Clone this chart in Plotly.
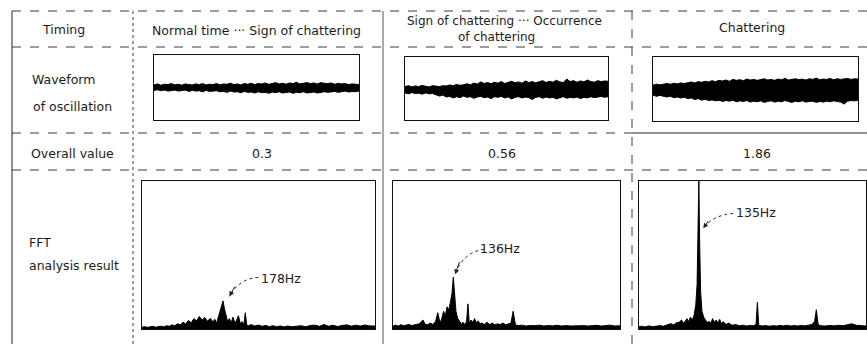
import plotly.graph_objects as go

# ---------------- data ----------------
row_labels = ["Timing", "Waveform", "of oscillation", "Overall value", "FFT", "analysis result"]
stage_labels = ["Normal time ··· Sign of chattering",
                "Sign of chattering ··· Occurrence", "of chattering",
                "Chattering"]
overall_values = ["0.3", "0.56", "1.86"]
peak_labels = ["178Hz", "136Hz", "135Hz"]

wave1_upper = [0.08,0.11,0.07,0.10,0.09,0.12,0.08,0.10,0.07,0.11,0.09,0.08,0.11,0.09,0.12,0.08,0.10,0.09,0.12,0.08,
               0.11,0.10,0.13,0.09,0.11,0.08,0.12,0.10,0.13,0.09,0.12,0.11,0.14,0.10,0.12,0.15,0.11,0.13,0.10,0.14,
               0.12,0.16,0.11,0.13,0.15,0.12,0.14,0.11,0.15,0.13,0.12,0.14,0.10,0.13,0.11,0.12,0.09,0.11,0.10,0.09]
wave1_lower = [-0.09,-0.07,-0.10,-0.08,-0.11,-0.09,-0.08,-0.11,-0.10,-0.08,-0.12,-0.09,-0.11,-0.10,-0.13,-0.09,-0.12,-0.11,-0.10,-0.13,
               -0.12,-0.15,-0.11,-0.14,-0.13,-0.16,-0.12,-0.15,-0.14,-0.17,-0.13,-0.16,-0.15,-0.18,-0.14,-0.16,-0.13,-0.17,-0.15,-0.14,
               -0.18,-0.15,-0.16,-0.13,-0.17,-0.15,-0.14,-0.17,-0.16,-0.13,-0.15,-0.14,-0.12,-0.15,-0.13,-0.11,-0.14,-0.12,-0.13,-0.11]
wave2_upper = [0.06,0.09,0.05,0.08,0.06,0.10,0.07,0.05,0.09,0.07,0.06,0.09,0.08,0.11,0.09,0.13,0.10,0.12,0.15,0.12,
               0.17,0.14,0.21,0.16,0.19,0.15,0.20,0.17,0.22,0.16,0.19,0.23,0.18,0.21,0.17,0.24,0.19,0.22,0.18,0.21,
               0.25,0.19,0.23,0.20,0.26,0.21,0.19,0.30,0.22,0.25,0.20,0.24,0.21,0.27,0.22,0.20,0.25,0.22,0.24,0.23]
wave2_lower = [-0.14,-0.17,-0.13,-0.16,-0.15,-0.18,-0.14,-0.17,-0.16,-0.20,-0.24,-0.21,-0.27,-0.25,-0.30,-0.26,-0.29,-0.24,-0.28,-0.26,
               -0.31,-0.27,-0.25,-0.29,-0.27,-0.32,-0.26,-0.28,-0.25,-0.30,-0.27,-0.33,-0.28,-0.26,-0.30,-0.27,-0.29,-0.35,-0.28,-0.26,
               -0.31,-0.27,-0.30,-0.28,-0.33,-0.29,-0.26,-0.31,-0.28,-0.30,-0.27,-0.32,-0.28,-0.30,-0.26,-0.29,-0.27,-0.25,-0.28,-0.26]
wave3_upper = [0.12,0.15,0.13,0.14,0.17,0.15,0.18,0.16,0.19,0.17,0.20,0.22,0.19,0.23,0.21,0.24,0.22,0.26,0.23,0.27,
               0.25,0.28,0.24,0.30,0.27,0.29,0.26,0.31,0.28,0.30,0.27,0.29,0.32,0.28,0.30,0.27,0.31,0.29,0.33,0.28,
               0.30,0.32,0.29,0.31,0.28,0.32,0.30,0.34,0.29,0.31,0.30,0.33,0.29,0.32,0.30,0.31,0.33,0.30,0.32,0.31]
wave3_lower = [-0.19,-0.23,-0.20,-0.22,-0.25,-0.23,-0.27,-0.25,-0.28,-0.26,-0.30,-0.28,-0.33,-0.30,-0.35,-0.32,-0.36,-0.34,-0.37,-0.35,
               -0.39,-0.36,-0.38,-0.35,-0.40,-0.37,-0.39,-0.36,-0.41,-0.38,-0.40,-0.37,-0.42,-0.39,-0.37,-0.41,-0.38,-0.40,-0.36,-0.39,
               -0.42,-0.38,-0.40,-0.37,-0.41,-0.39,-0.38,-0.42,-0.39,-0.41,-0.38,-0.40,-0.37,-0.39,-0.41,-0.47,-0.38,-0.36,-0.37,-0.35]

fft1_freq = [0,6,12,18,24,30,36,42,48,54,60,66,72,78,84,90,96,102,108,114,120,126,132,138,144,150,156,160,164,168,
             172,175,178,181,184,188,192,196,200,204,208,212,216,220,224,227,230,234,240,248,256,264,272,280,288,296,
             304,312,320,330,340,350,360,370,380,390,400,410,420,430,440,450,460,470,480,490,500,512]
fft1_amp = [0.012,0.016,0.011,0.015,0.018,0.012,0.016,0.019,0.014,0.022,0.018,0.028,0.022,0.036,0.027,0.046,0.034,0.058,
            0.042,0.070,0.055,0.085,0.060,0.078,0.052,0.072,0.048,0.066,0.040,0.080,0.120,0.150,0.190,0.140,0.100,0.050,
            0.070,0.042,0.080,0.040,0.060,0.090,0.035,0.050,0.030,0.110,0.028,0.022,0.030,0.020,0.027,0.018,0.024,0.016,
            0.022,0.015,0.021,0.014,0.020,0.015,0.019,0.022,0.015,0.024,0.026,0.018,0.030,0.019,0.025,0.017,0.024,0.028,
            0.019,0.026,0.020,0.027,0.021,0.020]

fft2_freq = [0,6,12,18,24,30,36,42,48,54,60,64,68,72,78,84,90,96,101,106,110,114,118,122,126,130,133,136,139,142,
             146,150,154,158,162,166,169,172,176,180,184,188,192,196,200,206,212,218,224,230,236,242,248,254,260,266,
             271,276,282,290,300,310,320,330,340,350,360,370,380,390,400,410,420,430,440,450,460,470,480,490,500,512]
fft2_amp = [0.020,0.026,0.020,0.029,0.022,0.027,0.031,0.023,0.029,0.033,0.036,0.050,0.060,0.033,0.028,0.040,0.030,0.050,
            0.110,0.040,0.070,0.120,0.090,0.150,0.130,0.190,0.240,0.350,0.200,0.120,0.070,0.050,0.035,0.045,0.030,0.050,
            0.170,0.040,0.060,0.045,0.070,0.040,0.055,0.035,0.040,0.030,0.045,0.030,0.040,0.028,0.035,0.030,0.040,0.028,
            0.035,0.040,0.120,0.030,0.022,0.026,0.020,0.024,0.022,0.026,0.020,0.024,0.021,0.025,0.020,0.023,0.020,0.022,
            0.019,0.023,0.020,0.022,0.025,0.020,0.022,0.026,0.020,0.022]

fft3_freq = [0,6,12,18,24,30,36,42,48,54,60,66,72,78,84,90,96,100,104,108,112,116,120,124,128,131,133,135,137,139,
             142,146,150,154,158,162,166,170,174,178,182,186,190,196,202,210,218,226,234,242,250,258,264,267,270,278,
             286,294,302,310,318,326,334,342,350,358,366,374,382,390,396,400,404,410,420,430,440,450,460,470,480,490,
             500,512]
fft3_amp = [0.015,0.019,0.014,0.018,0.021,0.015,0.019,0.021,0.023,0.018,0.025,0.029,0.036,0.028,0.041,0.045,0.060,0.040,
            0.050,0.070,0.050,0.080,0.060,0.090,0.160,0.300,0.600,1.000,0.550,0.250,0.120,0.080,0.060,0.045,0.050,0.040,
            0.070,0.045,0.060,0.040,0.065,0.035,0.050,0.030,0.040,0.025,0.030,0.022,0.026,0.020,0.024,0.022,0.030,0.180,
            0.025,0.020,0.023,0.019,0.022,0.020,0.024,0.021,0.025,0.020,0.023,0.020,0.024,0.021,0.026,0.030,0.050,0.130,
            0.030,0.022,0.020,0.024,0.021,0.025,0.022,0.028,0.035,0.025,0.022,0.020]

# arrow tips (freq, amplitude) that the peak labels point to
arrow_tip_freq = [192, 140, 145]
arrow_tip_amp = [0.22, 0.37, 0.68]

# ---------------- layout helpers ----------------
W, H = 867, 344
FONT = "DejaVu Sans"
INK = "#1c1c1c"
LINE = "#3a3a3a"


def px(x):
    return x / W


def py(y):
    return 1 - y / H


fig = go.Figure()

waves = [(wave1_upper, wave1_lower), (wave2_upper, wave2_lower), (wave3_upper, wave3_lower)]
wave_boxes = [(154, 359, 55, 120), (405, 608, 57, 120), (653, 858, 57, 121)]
ffts = [(fft1_freq, fft1_amp), (fft2_freq, fft2_amp), (fft3_freq, fft3_amp)]
fft_boxes = [(142, 375, 181, 329), (393, 620, 181, 329), (639, 866, 181, 329)]

axis_common = dict(showline=True, mirror=True, linecolor="#111", linewidth=1,
                   showgrid=False, zeroline=False, showticklabels=False, ticks="")

for i, ((up, lo), box) in enumerate(zip(waves, wave_boxes)):
    n = i + 1
    xa = "x" if n == 1 else f"x{n}"
    ya = "y" if n == 1 else f"y{n}"
    t = list(range(len(up)))
    fig.add_trace(go.Scatter(x=t, y=up, xaxis=xa, yaxis=ya, mode="lines",
                             line=dict(color="black", width=1), showlegend=False, hoverinfo="skip"))
    fig.add_trace(go.Scatter(x=t, y=lo, xaxis=xa, yaxis=ya, mode="lines", fill="tonexty",
                             fillcolor="black", line=dict(color="black", width=1),
                             showlegend=False, hoverinfo="skip"))
    x0, x1, y0, y1 = box
    fig.update_layout(**{
        ("xaxis" if n == 1 else f"xaxis{n}"): dict(domain=[px(x0), px(x1)], range=[0, len(up) - 1],
                                                   anchor=ya, **axis_common),
        ("yaxis" if n == 1 else f"yaxis{n}"): dict(domain=[py(y1), py(y0)], range=[-1, 1],
                                                   anchor=xa, **axis_common),
    })

for i, ((fr, am), box) in enumerate(zip(ffts, fft_boxes)):
    n = i + 4
    xa, ya = f"x{n}", f"y{n}"
    fig.add_trace(go.Scatter(x=fr, y=am, xaxis=xa, yaxis=ya, mode="lines", fill="tozeroy",
                             fillcolor="black", line=dict(color="black", width=1),
                             showlegend=False, hoverinfo="skip"))
    x0, x1, y0, y1 = box
    fig.update_layout(**{
        f"xaxis{n}": dict(domain=[px(x0), px(x1)], range=[0, 512], anchor=ya, **axis_common),
        f"yaxis{n}": dict(domain=[py(y1), py(y0)], range=[0, 1], anchor=xa, **axis_common),
    })

# ---------------- table lines ----------------
shapes = []


def hline(y, x0, x1, dash="solid", color=LINE, w=1):
    shapes.append(dict(type="line", xref="paper", yref="paper", x0=px(x0), x1=px(x1),
                       y0=py(y), y1=py(y), line=dict(color=color, width=w, dash=dash)))


def vline(x, y0, y1, dash="solid", color=LINE, w=1):
    shapes.append(dict(type="line", xref="paper", yref="paper", x0=px(x), x1=px(x),
                       y0=py(y0), y1=py(y1), line=dict(color=color, width=w, dash=dash)))


hline(11, 12, 867, dash="dash")
hline(47, 12, 867, dash="dash")
hline(133, 12, 632, dash="dash")
hline(133, 632, 867, dash="solid", color="#222")
hline(170, 12, 867, dash="dash")
vline(12, 11, 344, color="#222")
vline(133, 11, 344, dash="dot")
vline(383, 11, 344, color="#555")
vline(632, 11, 344, dash="dash")

# ---------------- text ----------------
ann = []


def text(s, x, y, anchor="center", size=12.5):
    ann.append(dict(text=s, x=px(x), y=py(y), xref="paper", yref="paper", showarrow=False,
                    xanchor=anchor, yanchor="middle", font=dict(family=FONT, size=size, color=INK)))


text(row_labels[0], 63, 29)
text(row_labels[1], 30, 80, "left")
text(row_labels[2], 31, 106, "left")
text(row_labels[3], 29, 153, "left")
text(row_labels[4], 27, 242, "left")
text(row_labels[5], 27, 265, "left")

text(stage_labels[0], 256, 31)
text(stage_labels[1], 504, 21, size=12)
text(stage_labels[2], 496, 37, size=12)
text(stage_labels[3], 752, 27)

for v, xc in zip(overall_values, [262, 502, 757]):
    text(v, xc, 153)

# peak labels with dotted curved arrows; offsets in pixels relative to the arrow tip
label_off = [(52, -18), (45, -26), (53, -16)]
start_off = [(29, -19), (29, -25), (30, -15)]
ctrl_off = [(10, -18), (8, -22), (9, -13)]
for i in range(3):
    n = i + 4
    x0, x1, y0, y1 = fft_boxes[i]
    fpp = 512 / (x1 - x0)      # freq per pixel
    app = 1 / (y1 - y0)        # amplitude per pixel
    tf, ta = arrow_tip_freq[i], arrow_tip_amp[i]
    sf, sa = tf + start_off[i][0] * fpp, ta - start_off[i][1] * app
    cf, ca = tf + ctrl_off[i][0] * fpp, ta - ctrl_off[i][1] * app
    shapes.append(dict(type="path", xref=f"x{n}", yref=f"y{n}",
                       path=f"M {sf},{sa} Q {cf},{ca} {tf},{ta}",
                       line=dict(color="#222", width=1, dash="dot")))
    # arrowhead
    ann.append(dict(text=" ", x=tf, y=ta, xref=f"x{n}", yref=f"y{n}", showarrow=True,
                    ax=ctrl_off[i][0] * 0.6, ay=ctrl_off[i][1] * 0.6, arrowhead=2, arrowsize=1,
                    arrowwidth=1, arrowcolor="#222", standoff=0, borderpad=0,
                    font=dict(size=1)))
    # label
    ann.append(dict(text=peak_labels[i], x=tf + label_off[i][0] * fpp, y=ta - label_off[i][1] * app,
                    xref=f"x{n}", yref=f"y{n}", showarrow=False, xanchor="center", yanchor="middle",
                    font=dict(family=FONT, size=12.5, color=INK)))

fig.update_layout(shapes=shapes, annotations=ann, width=W, height=H, margin=dict(l=0, r=0, t=0, b=0),
                  paper_bgcolor="white", plot_bgcolor="white", showlegend=False)

fig.write_html("out.html")
